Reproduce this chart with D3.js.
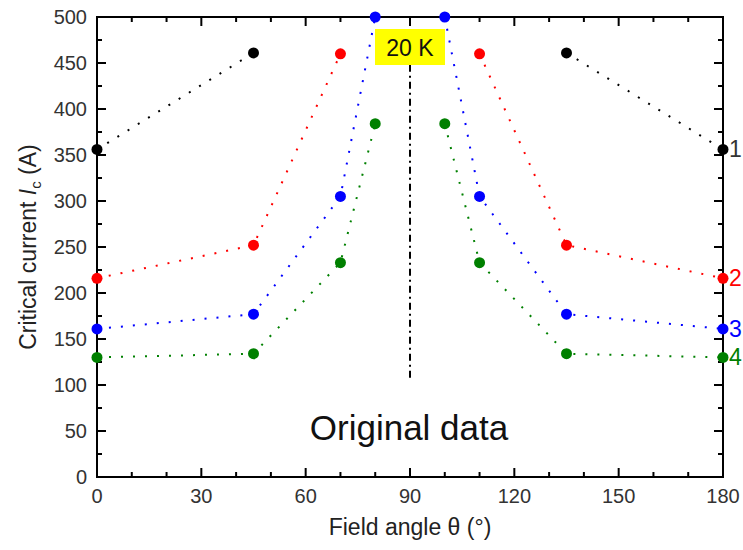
<!DOCTYPE html>
<html>
<head>
<meta charset="utf-8">
<script src="https://cdn.jsdelivr.net/npm/d3@7"></script>
<style>
  body { margin: 0; background: #fff; }
  svg text { font-family: "Liberation Sans", Arial, sans-serif; }
</style>
</head>
<body>
<div id="chart"></div>
<script>
// field angles (deg) where Ic was measured
var angles = [0, 45, 70, 80, 100, 110, 135, 180];
// critical current (A) for each curve, null = not measured
var curve1 = [356, 461, null, null, null, null, 461, 356];
var curve2 = [216, 252, 460, null, null, 460, 252, 216];
var curve3 = [161, 177, 305, 500, 500, 305, 177, 161];
var curve4 = [130, 134, 233, 384, 384, 233, 134, 130];
var curveNames = ['1', '2', '3', '4'];
var curveColors = ['#000000', '#ff0000', '#0000ff', '#008000'];
var labelColors = ['#333333', '#ff0000', '#0000ff', '#008000'];
var xTicks = [0, 30, 60, 90, 120, 150, 180];
var yTicks = [0, 50, 100, 150, 200, 250, 300, 350, 400, 450, 500];
var tempLabel = '20 K';
var noteLabel = 'Original data';

var width = 743, height = 550;
var margin = {left: 97, right: 20, top: 17, bottom: 73};

var svg = d3.select('#chart').append('svg')
  .attr('width', width)
  .attr('height', height);

var x = d3.scaleLinear().domain([0, 180]).range([margin.left, width - margin.right]);
var y = d3.scaleLinear().domain([0, 500]).range([height - margin.bottom, margin.top]);

var series = [curve1, curve2, curve3, curve4];

// ticks, all pointing inward
var gTicks = svg.append('g').attr('stroke', '#000').attr('stroke-width', 2);
d3.range(0, 181, 10).forEach(function(v) {
  var len = v % 30 == 0 ? 9 : 5;
  gTicks.append('line').attr('x1', x(v)).attr('x2', x(v)).attr('y1', y(0)).attr('y2', y(0) - len);
  gTicks.append('line').attr('x1', x(v)).attr('x2', x(v)).attr('y1', y(500)).attr('y2', y(500) + len);
});
d3.range(0, 501, 25).forEach(function(v) {
  var len = v % 50 == 0 ? 9 : 5;
  gTicks.append('line').attr('y1', y(v)).attr('y2', y(v)).attr('x1', x(0)).attr('x2', x(0) + len);
  gTicks.append('line').attr('y1', y(v)).attr('y2', y(v)).attr('x1', x(180)).attr('x2', x(180) - len);
});

// frame
svg.append('rect')
  .attr('x', x(0)).attr('y', y(500))
  .attr('width', x(180) - x(0)).attr('height', y(0) - y(500))
  .attr('fill', 'none').attr('stroke', '#000').attr('stroke-width', 2);

// tick labels
svg.append('g').selectAll('text').data(xTicks).enter().append('text')
  .attr('x', function(d) { return x(d); })
  .attr('y', y(0) + 26)
  .attr('text-anchor', 'middle')
  .attr('font-size', 20)
  .attr('fill', '#333')
  .text(function(d) { return d; });

svg.append('g').selectAll('text').data(yTicks).enter().append('text')
  .attr('x', x(0) - 10)
  .attr('y', function(d) { return y(d) + 7; })
  .attr('text-anchor', 'end')
  .attr('font-size', 20)
  .attr('fill', '#333')
  .text(function(d) { return d; });

// axis titles
svg.append('text')
  .attr('x', x(90)).attr('y', 535)
  .attr('text-anchor', 'middle')
  .attr('font-size', 23)
  .attr('fill', '#222')
  .text('Field angle \u03b8 (\u00b0)');

var yt = svg.append('text')
  .attr('transform', 'translate(36,' + 247 + ') rotate(-90)')
  .attr('text-anchor', 'middle')
  .attr('font-size', 23)
  .attr('fill', '#222');
yt.append('tspan').text('Critical current ');
yt.append('tspan').attr('font-style', 'italic').text('I');
yt.append('tspan').attr('font-size', 15).attr('dy', 5).text('c');
yt.append('tspan').attr('dy', -5).text(' (A)');

// 90 deg marker line
svg.append('line')
  .attr('x1', x(90)).attr('x2', x(90))
  .attr('y1', y(108)).attr('y2', y(455))
  .attr('stroke', '#000').attr('stroke-width', 2)
  .attr('stroke-dasharray', '7,4,2,4');

var line = d3.line()
  .defined(function(d) { return d.v != null; })
  .x(function(d) { return x(d.a); })
  .y(function(d) { return y(d.v); });

series.forEach(function(vals, i) {
  var pts = angles.map(function(a, j) { return {a: a, v: vals[j]}; });
  var halves = [pts.filter(function(d) { return d.a < 90; }), pts.filter(function(d) { return d.a > 90; })];
  halves.forEach(function(h) {
    svg.append('path')
      .attr('d', line(h))
      .attr('fill', 'none')
      .attr('stroke', curveColors[i])
      .attr('stroke-width', 2)
      .attr('stroke-dasharray', '2,10');
  });
  svg.append('g').selectAll('circle')
    .data(pts.filter(function(d) { return d.v != null; }))
    .enter().append('circle')
    .attr('cx', function(d) { return x(d.a); })
    .attr('cy', function(d) { return y(d.v); })
    .attr('r', 5.5)
    .attr('fill', curveColors[i]);
  svg.append('text')
    .attr('x', x(180) + 6)
    .attr('y', y(vals[vals.length - 1]) + 8)
    .attr('font-size', 23)
    .attr('fill', labelColors[i])
    .text(curveNames[i]);
});

// temperature box
var bx = x(90);
svg.append('rect')
  .attr('x', bx - 35).attr('y', 29)
  .attr('width', 70).attr('height', 36)
  .attr('fill', '#ffff00');
svg.append('text')
  .attr('x', bx).attr('y', 56)
  .attr('text-anchor', 'middle')
  .attr('font-size', 23)
  .attr('fill', '#111')
  .text(tempLabel);

svg.append('text')
  .attr('x', x(90) - 1).attr('y', 440)
  .attr('text-anchor', 'middle')
  .attr('font-size', 35)
  .attr('fill', '#111')
  .text(noteLabel);
</script>
</body>
</html>
